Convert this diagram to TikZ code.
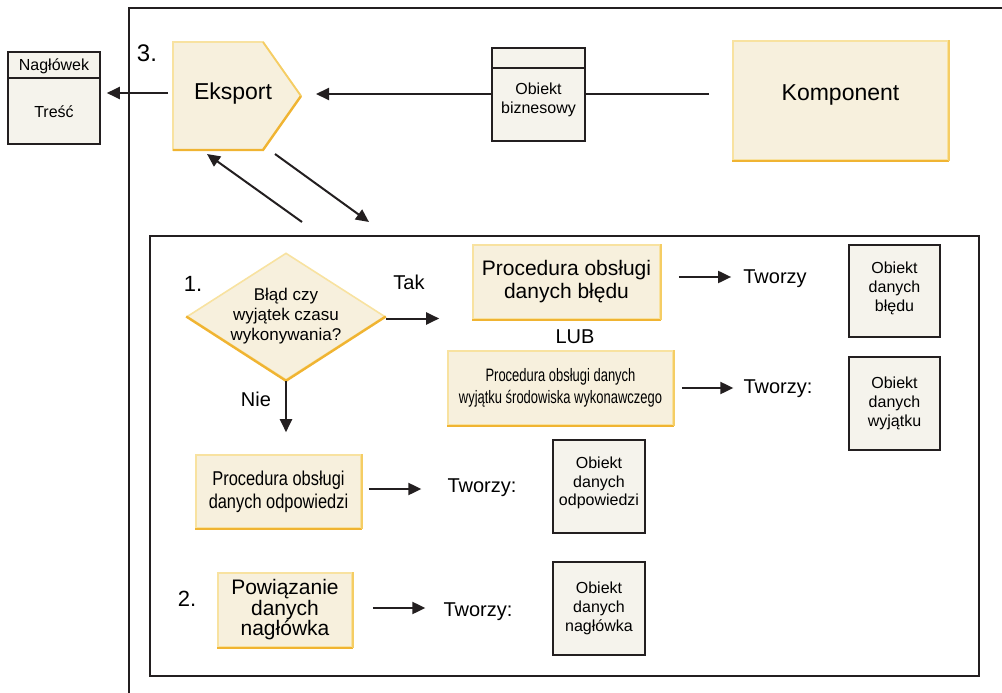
\documentclass[tikz,border=0pt]{standalone}
\usepackage{fontspec}
\setmainfont{Liberation Sans}
\newfontfamily\narrowfont[FakeStretch=0.82]{Liberation Sans}
\newfontfamily\narrowerfont[FakeStretch=0.72]{Liberation Sans}
\usetikzlibrary{shapes.geometric,arrows.meta}
\definecolor{yelfill}{RGB}{247,240,221}
\definecolor{yelline}{RGB}{248,226,160}
\definecolor{yelmid}{RGB}{245,205,100}
\definecolor{yeldark}{RGB}{240,180,50}
\definecolor{objfill}{RGB}{245,243,236}
\definecolor{objline}{RGB}{35,31,32}
\newcommand{\fsz}[2]{\fontsize{#1pt}{#2pt}\selectfont}
\begin{document}
\begin{tikzpicture}[x=1pt,y=-1pt,line join=miter]
\tikzset{
  obj/.style={draw=objline,fill=objfill,line width=1.6pt,align=center,inner sep=0pt,font=\fsz{16}{19}},
  yel/.style={draw=yelline,fill=yelfill,line width=1.6pt,align=center,inner sep=0pt},
  yeledge/.style={draw=yeldark,line width=2.4pt},
  yelside/.style={draw=yelmid,line width=1.8pt},
  arr/.style={-{Triangle[length=13pt,width=12pt]},line width=2pt,draw=objline},
  lbl/.style={font=\fsz{20}{24},inner sep=0pt},
  num/.style={font=\fsz{22}{26},inner sep=0pt}
}
\useasboundingbox (0,0) rectangle (1002,693);
% outer frame
\draw[line width=2pt,objline] (129,693) -- (129,8) -- (1002,8);

% message: header and body
\node[obj,minimum width=92pt,minimum height=92pt] (msg) at (54,98) {};
\draw[objline,line width=1.6pt] (msg.west |- 0,78) -- (msg.east |- 0,78);
\node[font=\fsz{16}{19}] (hdrtxt) at (54,66) {Nagłówek};
\node[font=\fsz{16}{19}] (bodytxt) at (54,112) {Treść};

% export
\filldraw[yel] (173,42) -- (263,42) -- (301,96) -- (263,150) -- (173,150) -- cycle;
\draw[yeledge] (173,150) -- (263,150) -- (301,96);
\draw[yelside] (263,42) -- (301,96);
\node[minimum width=128pt,minimum height=108pt,inner sep=0pt,font=\fsz{23}{27}] (eksp) at (237,96) {};
\node[font=\fsz{23}{27}] (eksptxt) at (233,94) {Eksport};
\node[num,font=\fsz{24}{28}] (n3) at (147,53) {3.};

% business object and component
\node[obj,minimum width=93pt,minimum height=93pt] (bo) at (538.5,94.5) {};
\draw[objline,line width=1.6pt] (bo.west |- 0,68) -- (bo.east |- 0,68);
\node[font=\fsz{16}{19},align=center] (botxt) at (538.5,100) {Obiekt\\biznesowy};
\node[yel,minimum width=215pt,minimum height=119pt] (komp) at (840.5,100.5) {};
\node[font=\fsz{23}{27}] (komptxt) at (840.5,95) {Komponent};

\coordinate (eL) at (168,93);
\coordinate (eR) at (316,94);
\draw[arr,shorten >=6pt] (eL) -- (eL -| msg.east);
\draw[line width=2pt,objline,shorten <=23pt] (komp.west |- eR) -- (bo.east |- eR);
\draw[arr] (bo.west |- eR) -- (eR);

% inner box
\node[draw=objline,line width=2.5pt,minimum width=829pt,minimum height=440pt,inner sep=0pt] (flow) at (564.5,456) {};
\coordinate (upA) at (302,222);
\coordinate (upB) at (207,154);
\coordinate (dnA) at (275,154);
\coordinate (dnB) at (369,222);
\draw[arr] (upA) -- (upB);
\draw[arr] (dnA) -- (dnB);

% 1. decision
\node[num] (n1) at (193,284) {1.};
\node[diamond,draw=yelline,fill=yelfill,line width=1.6pt,minimum width=198pt,minimum height=127pt,
  aspect=1.56,inner sep=-2pt,align=center,font=\fsz{17}{20}] (dec) at (286,316.5) {Błąd czy\\wyjątek czasu\\wykonywania?};
\draw[yeledge] (dec.west) -- (dec.south) -- (dec.east);

\node[yel,minimum width=187pt,minimum height=74pt,font=\fsz{21}{23}] (err) at (566.5,282) {Procedura obsługi\\danych błędu};
\node[lbl] (lub) at (575,337) {LUB};
\node[yel,minimum width=225pt,minimum height=74pt,font=\narrowerfont\fsz{18}{22}] (exc) at (560.5,388) {Procedura obsługi danych\\wyjątku środowiska wykonawczego};
\node[yel,minimum width=165pt,minimum height=73pt,font=\narrowfont\fsz{20}{23}] (resp) at (278.5,491.5) {Procedura obsługi\\danych odpowiedzi};
\node[num] (n2) at (187,599) {2.};
\node[yel,minimum width=134pt,minimum height=74pt,font=\fsz{21}{20.5}] (bind) at (285,610) {Powiązanie\\danych\\nagłówka};
\foreach \n in {komp,err,exc,resp,bind}{
  \draw[yeledge] (\n.south west) -- (\n.south east);
  \draw[yelside] (\n.south east) -- (\n.north east);
}

\node[lbl] (tak) at (409,282) {Tak};
\node[lbl] (nie) at (256,399) {Nie};
\draw[arr,shorten >=33pt] ([yshift=-2pt]dec.east) -- ([yshift=-2pt]dec.east -| err.west);
\draw[arr,shorten >=22pt] (dec.south) -- (dec.south |- resp.north);

% created objects
\node[lbl] (t1) at (775,279) {Tworzy};
\node[lbl] (t2) at (778,389) {Tworzy:};
\node[lbl] (t3) at (482,488) {Tworzy:};
\node[lbl] (t4) at (478,612) {Tworzy:};
\draw[arr,shorten <=18pt,shorten >=12pt] (err.east |- 0,277) -- (t1.west |- 0,277);
\draw[arr,shorten <=8pt,shorten >=10pt] (exc.east |- 0,388) -- (t2.west |- 0,388);
\draw[arr,shorten <=7pt,shorten >=26pt] (resp.east |- 0,489) -- (t3.west |- 0,489);
\draw[arr,shorten <=20pt,shorten >=18pt] (bind.east |- 0,608) -- (t4.west |- 0,608);

\node[obj,minimum width=91pt,minimum height=92pt] (errobj) at (894.5,291) {};
\node[font=\fsz{16}{19},align=center] (errtxt) at (894.5,288) {Obiekt\\danych\\błędu};
\node[obj,minimum width=91pt,minimum height=93pt] (excobj) at (894.5,403.5) {};
\node[font=\fsz{16}{19},align=center] (exctxt) at (894.5,403) {Obiekt\\danych\\wyjątku};
\node[obj,minimum width=92pt,minimum height=93pt] (respobj) at (599,486.5) {};
\node[font=\fsz{16}{18.5},align=center] (resptxt) at (599,483) {Obiekt\\danych\\odpowiedzi};
\node[obj,minimum width=92pt,minimum height=93pt] (hdrobj) at (599,608.5) {};
\node[font=\fsz{16}{19},align=center] (hdrobjtxt) at (599,608) {Obiekt\\danych\\nagłówka};
\end{tikzpicture}
\end{document}
